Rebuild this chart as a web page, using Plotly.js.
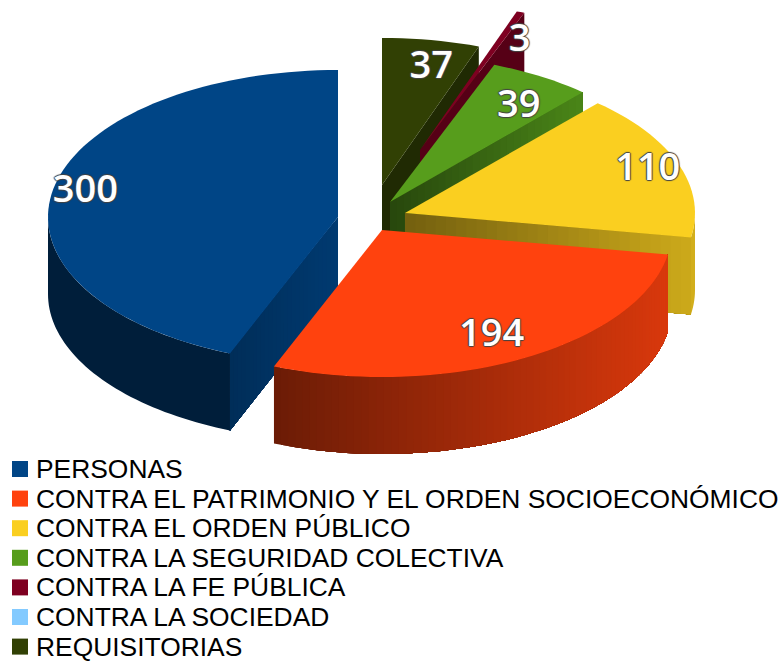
<!DOCTYPE html>
<html>
<head>
<meta charset="utf-8">
<script src="https://cdn.plot.ly/plotly-3.0.1.min.js"></script>
<style>html,body{margin:0;padding:0;background:#fff;overflow:hidden}#chart{width:781px;height:661px}</style>
</head>
<body>
<div id="chart"></div>
<script>
// ---- data ----
const categories = ["PERSONAS","CONTRA EL PATRIMONIO Y EL ORDEN SOCIOECONÓMICO","CONTRA EL ORDEN PÚBLICO","CONTRA LA SEGURIDAD COLECTIVA","CONTRA LA FE PÚBLICA","CONTRA LA SOCIEDAD","REQUISITORIAS"];
const values = [300,194,110,39,3,0,37];
const colors = [[0,69,134],[255,66,14],[250,207,32],[87,157,28],[126,0,33],[131,202,255],[49,64,4]];

// ---- pie geometry (exploded centres, pixel-scaled axes) ----
const centerX = [338,382,405,390,420,400,382];
const centerY = [217,230,213,202,150,200,185];
const RX = 290, RY = 147, DEPTH = 77;
// side-wall shading: brightness at the left / right of a wall
const radialShadeL = [0.66,0.42,0.46,0.45,0.68,0.5,0.65];
const radialShadeR = [0.84,0.85,0.82,0.85,0.68,0.5,0.65];
const outerShadeL  = [0.43,0.42,0.84,0.6,0.6,0.6,0.6];
const outerShadeR  = [0.43,0.85,0.84,0.6,0.6,0.6,0.6];
// label placement along the slice bisector
const labelFrac = [0.87,0.78,0.88,0.84,0.9,0,0.88];
const labelDy   = [0,6,0,11,16,0,11];
const labelDx   = [-5,-1,2,2,9,0,6];
const drawOrder = [6,4,3,2,0,1];

const legendRowY0 = 469, legendRowStep = 29.6, legendMarkerX = 20, legendTextX = 35;

// ---- build ----
const total = values.reduce((a,b)=>a+b,0);
const rgb = (c,f)=>`rgb(${Math.round(c[0]*f)},${Math.round(c[1]*f)},${Math.round(c[2]*f)})`;
const rad = d=>d*Math.PI/180;
const starts = []; let run = 0;
values.forEach(v=>{starts.push(run); run += v/total*360;});
const traces = [];
function poly(xs,ys,color){
  traces.push({type:'scatter',mode:'lines',x:xs.concat(xs[0]),y:ys.concat(ys[0]),fill:'toself',fillcolor:color,
    line:{color:color,width:0,simplify:false},hoverinfo:'skip',showlegend:false});
}
function slice(i){
  const a0 = starts[i], a1 = a0 + values[i]/total*360, cx = centerX[i], cy = centerY[i], col = colors[i];
  const px = a=>cx-RX*Math.sin(rad(a)), py = a=>cy-RY*Math.cos(rad(a));
  const xShade = (x,L,R,x0,x1)=>x1===x0?L:L+(R-L)*(x-x0)/(x1-x0);
  // radial walls: each strip reaches to the far end, the next one paints over it
  const wall = a=>{
    const flat = radialShadeL[i]===radialShadeR[i], n = flat?1:28, ex = px(a), ey = py(a);
    const x0 = Math.min(cx,ex), x1 = Math.max(cx,ex);
    for(let k=0;k<n;k++){
      const t0=k/n,t1=(k+0.5)/n;
      const xa=cx+(ex-cx)*t0, ya=cy+(ey-cy)*t0;
      poly([xa,ex,ex,xa],[ya,ey,ey+DEPTH,ya+DEPTH],rgb(col,xShade(cx+(ex-cx)*t1,radialShadeL[i],radialShadeR[i],x0,x1)));
    }
  };
  if(a0>180 && a0<360) wall(a0);
  if(a1>0 && a1<180) wall(a1);
  // outer wall, only the front half
  const f0 = Math.max(a0,90), f1 = Math.min(a1,270);
  if(f1>f0){
    const flat = outerShadeL[i]===outerShadeR[i];
    const n = flat?1:Math.ceil((f1-f0)/1.5);
    const xs0 = Math.min(px(f0),px(f1)), xs1 = Math.max(px(f0),px(f1));
    for(let k=0;k<n;k++){
      const b0=f0+(f1-f0)*k/n, mid=f0+(f1-f0)*(k+0.5)/n;
      const steps=Math.max(2,Math.ceil((f1-b0)/1.5)), arc=[];
      for(let s=0;s<=steps;s++) arc.push(b0+(f1-b0)*s/steps);
      const xs=arc.map(px), ys=arc.map(py);
      poly(xs.concat(xs.slice().reverse()),ys.concat(ys.slice().reverse().map(y=>y+DEPTH)),
        rgb(col,xShade(px(mid),outerShadeL[i],outerShadeR[i],xs0,xs1)));
    }
  }
  // top face
  const m = Math.max(2,Math.ceil((a1-a0)/2));
  const tx=[cx], ty=[cy];
  for(let k=0;k<=m;k++){const a=a0+(a1-a0)*k/m; tx.push(px(a)); ty.push(py(a));}
  poly(tx,ty,rgb(col,1));
}
drawOrder.forEach(slice);

// value labels
const lx=[],ly=[],lt=[];
values.forEach((v,i)=>{
  if(!v) return;
  const mid=starts[i]+v/total*180;
  lx.push(centerX[i]-RX*labelFrac[i]*Math.sin(rad(mid))+labelDx[i]);
  ly.push(centerY[i]-RY*labelFrac[i]*Math.cos(rad(mid))+labelDy[i]);
  lt.push(String(v));
});
traces.push({type:'scatter',mode:'text',x:lx,y:ly,text:lt,textposition:'middle center',hoverinfo:'skip',showlegend:false,
  textfont:{family:'"Open Sans",sans-serif',size:38,weight:600,color:'#ffffff',
    shadow:'1px 0 1px #444,-1px 0 1px #444,0 1px 1px #444,0 -1px 1px #444'}});

// legend squares + labels
const rowsY = categories.map((c,i)=>legendRowY0+i*legendRowStep);
traces.push({type:'scatter',mode:'markers',x:categories.map(()=>legendMarkerX),y:rowsY,hoverinfo:'skip',showlegend:false,
  marker:{symbol:'square',size:16,color:colors.map(c=>rgb(c,1)),line:{width:0}}});
const annotations = categories.map((c,i)=>({x:legendTextX,y:rowsY[i],xref:'x',yref:'y',text:c,showarrow:false,xanchor:'left',yanchor:'middle',
  align:'left',borderpad:0,font:{family:'"Liberation Sans",Arial,sans-serif',size:26.4,color:'#000'}}));

Plotly.newPlot('chart',traces,{
  width:781,height:661,margin:{l:0,r:0,t:0,b:0,pad:0},paper_bgcolor:'#fff',plot_bgcolor:'#fff',showlegend:false,
  xaxis:{range:[0,781],visible:false,fixedrange:true},
  yaxis:{range:[661,0],visible:false,fixedrange:true},
  annotations:annotations
},{displayModeBar:false,staticPlot:true});
</script>
</body>
</html>
